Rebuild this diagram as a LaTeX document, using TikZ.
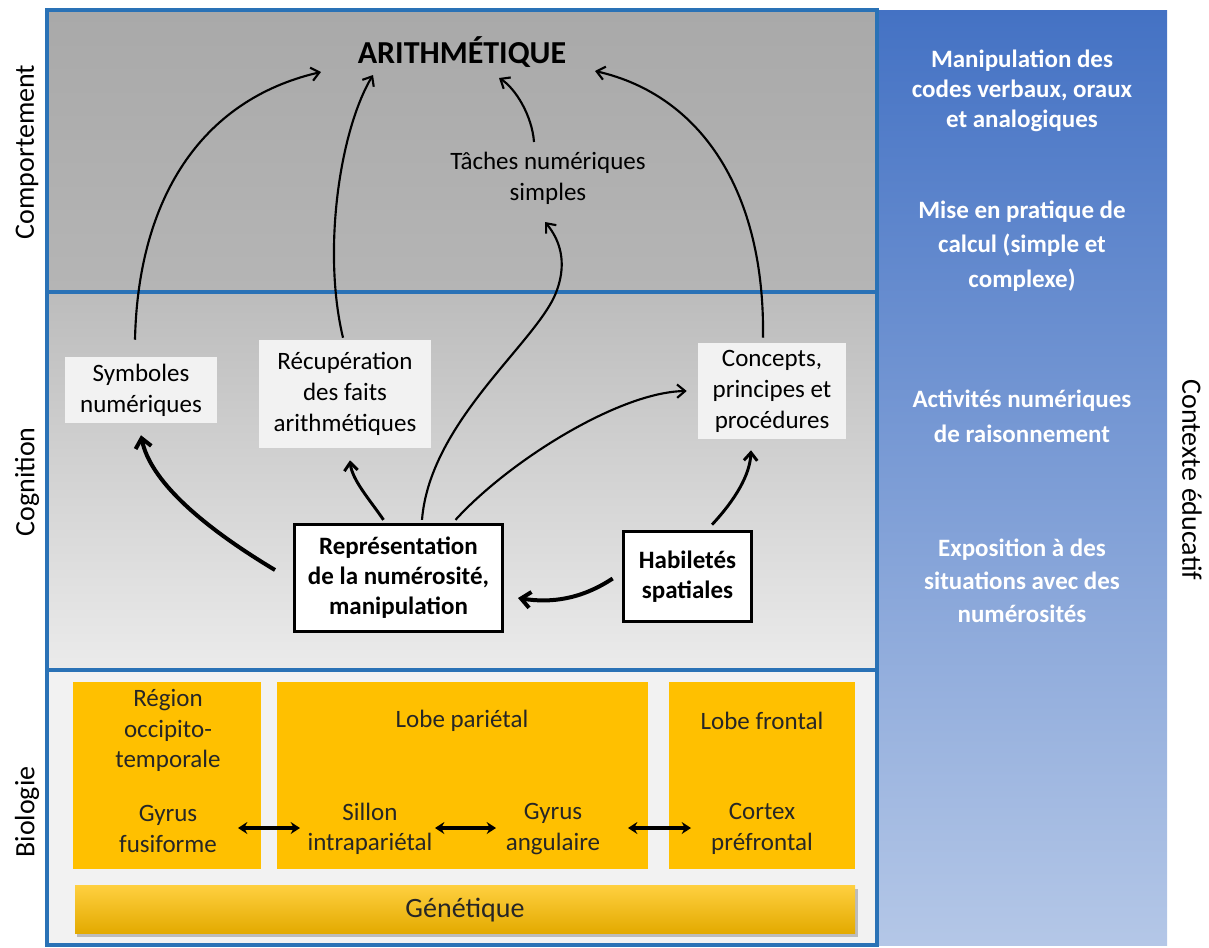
\documentclass[tikz,border=0pt]{standalone}
\usepackage{fontspec}
\setmainfont{Carlito}
\usetikzlibrary{arrows.meta,calc}
\definecolor{frameblue}{HTML}{2A72B6}
\definecolor{topgA}{HTML}{A9A9A9}
\definecolor{topgB}{HTML}{B5B5B5}
\definecolor{midgA}{HTML}{BCBCBC}
\definecolor{midgB}{HTML}{EBEBEB}
\definecolor{biobg}{HTML}{F2F2F2}
\definecolor{panelA}{HTML}{4472C4}
\definecolor{panelB}{HTML}{B4C7E7}
\definecolor{softfill}{HTML}{F2F2F2}
\definecolor{bioyellow}{HTML}{FFC000}
\definecolor{genA}{HTML}{FFD040}
\definecolor{genM}{HTML}{FFC000}
\definecolor{genB}{HTML}{E3AA00}
\definecolor{biotext}{HTML}{262626}
\begin{document}
\begin{tikzpicture}[x=0.75pt,y=-0.75pt,
  body/.style={font=\fontsize{18.75pt}{23.25pt}\selectfont, align=center, inner sep=0pt},
  bodyb/.style={font=\fontsize{18.75pt}{22.5pt}\selectfont\bfseries, align=center, inner sep=0pt},
  softbox/.style={body, fill=softfill, draw=none},
  strongbox/.style={bodyb, fill=white, draw=black, line width=2.25pt},
  biobox/.style={fill=bioyellow, draw=none},
  biotxt/.style={font=\fontsize{18.75pt}{22.9pt}\selectfont, align=center, inner sep=0pt, text=biotext},
  paneltxt/.style={font=\fontsize{18.75pt}{22.5pt}\selectfont\bfseries, align=center, inner sep=0pt, text=white},
  sidelabel/.style={font=\fontsize{21pt}{25pt}\selectfont, inner sep=0pt},
  thinarr/.style={-{Straight Barb[length=6pt,width=10pt]}, line width=1.6pt},
  medarr/.style={-{Straight Barb[length=6pt,width=10pt]}, line width=2.2pt},
  thickarr/.style={-{Straight Barb[length=7pt,width=12pt]}, line width=3pt},
  biarr/.style={{Stealth[length=7pt,width=9pt]}-{Stealth[length=7pt,width=9pt]}, line width=3pt}
]
\useasboundingbox (0,0) rectangle (1209,947);
% backgrounds
\shade[top color=topgA, bottom color=topgB] (47,10) rectangle (877,292);
\shade[top color=midgA, bottom color=midgB] (47,292) rectangle (877,670);
\fill[biobg] (47,670) rectangle (877,945);
\shade[top color=panelA, bottom color=panelB] (877,10) rectangle (1167,945);
\draw[frameblue, line width=3pt] (47,10) rectangle (877,945);
\draw[frameblue, line width=3pt] (47,292) -- (877,292);
\draw[frameblue, line width=3pt] (47,670) -- (877,670);

% side labels
\node[sidelabel, rotate=90] (lcomp) at (27,152) {Comportement};
\node[sidelabel, rotate=90] (lcogn) at (27,482) {Cognition};
\node[sidelabel, rotate=90] (lbio) at (27,812) {Biologie};
\node[sidelabel, rotate=-90] (lctx) at (1192,480) {Contexte éducatif};

% right panel texts
\node[paneltxt] (p1) at (1022,91) {Manipulation des\\codes verbaux, oraux\\et analogiques};
\node[paneltxt, font=\fontsize{18.75pt}{25.9pt}\selectfont\bfseries] (p2) at (1022,246) {Mise en pratique de\\calcul (simple et\\complexe)};
\node[paneltxt, font=\fontsize{18.75pt}{26.25pt}\selectfont\bfseries] (p3) at (1022,416) {Activités numériques\\de raisonnement};
\node[paneltxt, font=\fontsize{18.75pt}{24.75pt}\selectfont\bfseries] (p4) at (1022,581) {Exposition à des\\situations avec des\\numérosités};

% behaviour
\node[font=\fontsize{24pt}{28pt}\selectfont\bfseries, inner sep=0pt] (arith) at (462,52) {ARITHMÉTIQUE};
\node[body] (taches) at (548,178) {Tâches numériques\\simples};

% cognition boxes
\node[softbox, minimum width=114pt, minimum height=49.5pt] (symb) at (141,390) {Symboles\\numériques};
\node[softbox, minimum width=129pt, minimum height=81pt] (recup) at (345,394) {Récupération\\des faits\\arithmétiques};
\node[softbox, minimum width=111pt, minimum height=72pt] (concepts) at (772,391) {Concepts,\\principes et\\procédures};
\node[strongbox, minimum width=156pt, minimum height=80.5pt] (repr) at (398.5,578) {Représentation\\de la numérosité,\\manipulation};
\node[strongbox, minimum width=96.5pt, minimum height=68pt] (habil) at (687.5,576.5) {Habiletés\\spatiales};

% arrows to ARITHMETIQUE
\draw[thinarr] ($(symb.north)+(-6,-17)$) .. controls (138,200) and (200,100) .. ($(arith.center)+(-141,20)$);
\draw[thinarr] ($(recup.north)+(-2,-2)$) .. controls (322,250) and (340,130) .. ($(arith.center)+(-89,23)$);
\draw[thinarr] ($(taches.center)+(-14,-36)$) .. controls (532,115) and (515,88) .. ($(arith.center)+(37,26)$);
\draw[thinarr] ($(concepts.north)+(-9,-5)$) .. controls (765,190) and (700,95) .. ($(arith.center)+(133,19)$);

% arrows in cognition
\draw[thinarr] ($(repr.north)+(23.5,-3)$) .. controls (430,420) and (540,340) .. (557,290) .. controls (567,262) and (560,240) .. ($(taches.center)+(-3,44)$);
\draw[thinarr] ($(repr.north)+(57,-3)$) .. controls (510,460) and (620,392) .. ($(concepts.west)+(-11,0)$);
\draw[medarr] ($(repr.north)+(-15,-3)$) .. controls (370,500) and (352,480) .. ($(recup.south)+(5,12)$);
\draw[thickarr] ($(repr.west)+(-18,-8)$) .. controls (200,525) and (150,480) .. ($(symb.south)+(0,12)$);
\draw[thickarr] ($(habil.west)+(-9,2)$) .. controls (580,600) and (550,603) .. ($(repr.east)+(14,20)$);
\draw[medarr] ($(habil.north)+(24.5,-5)$) .. controls (735,500) and (750,475) .. ($(concepts.south)+(-21,11)$);

% biology
\node[biobox, minimum width=141pt, minimum height=140.25pt] (bioA) at (167,775.5) {};
\node[biobox, minimum width=278.25pt, minimum height=140.25pt] (bioB) at (462.5,775.5) {};
\node[biobox, minimum width=139.5pt, minimum height=140.25pt] (bioC) at (762,775.5) {};
\node[biotxt] (reg) at (168,730.5) {Région\\occipito-\\temporale};
\node[biotxt] (gf) at (168,829) {Gyrus\\fusiforme};
\node[biotxt] (lp) at (462,721) {Lobe pariétal};
\node[biotxt] (si) at (370,829) {Sillon\\intrapariétal};
\node[biotxt] (ga) at (553,829) {Gyrus\\angulaire};
\node[biotxt] (lf) at (762,721) {Lobe frontal};
\node[biotxt] (cp) at (762,829) {Cortex\\préfrontal};
\draw[biarr] ($(gf.center)+(70,-1)$) -- ($(si.center)+(-70,-1)$);
\draw[biarr] ($(si.center)+(65,-1)$) -- ($(ga.center)+(-57,-1)$);
\draw[biarr] ($(ga.center)+(75,-1)$) -- ($(cp.center)+(-71,-1)$);

% genetics bar
\fill[black, opacity=0.22] (77,889) rectangle (858,937);
\shade[top color=genA, middle color=genM, bottom color=genB] (75,885) rectangle (855,933);
\node[font=\fontsize{21pt}{25pt}\selectfont, inner sep=0pt, text=biotext] (gen) at (465,910) {Génétique};
\end{tikzpicture}
\end{document}
